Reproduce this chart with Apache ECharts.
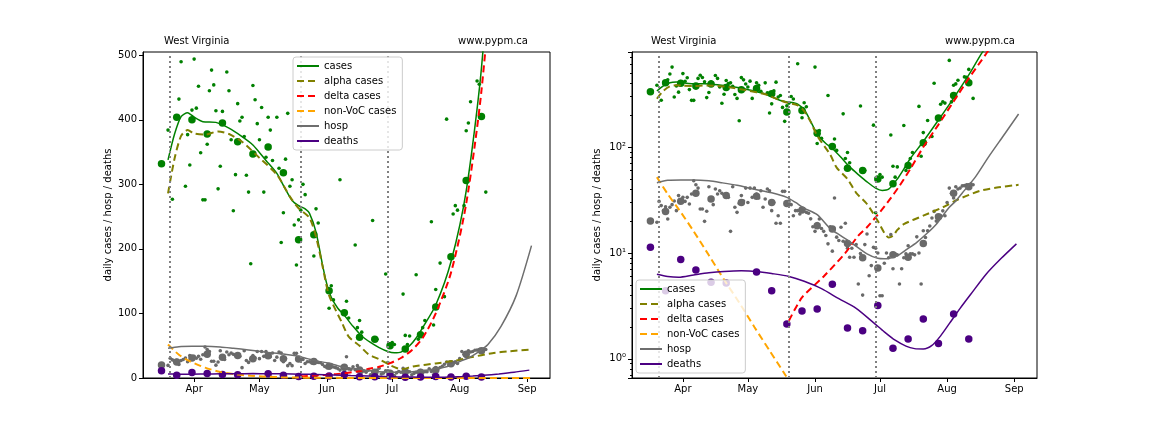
<!DOCTYPE html>
<html><head><meta charset="utf-8">
<script src="https://cdn.jsdelivr.net/npm/echarts@6/dist/echarts.min.js"></script>
<style>html,body{margin:0;padding:0;background:#fff}#c{width:1152px;height:432px}</style>
</head><body><div id="c"></div><script>
// ---------- data ----------
const startDate = '2021-03-17';            // day 0
const dailyStartOffset = 3;                // daily points start Mar 20
const weeklyDates = ['2021-03-17','2021-03-24','2021-03-31','2021-04-07','2021-04-14','2021-04-21','2021-04-28','2021-05-05','2021-05-12','2021-05-19','2021-05-26','2021-06-02','2021-06-09','2021-06-16','2021-06-23','2021-06-30','2021-07-07','2021-07-14','2021-07-21','2021-07-28','2021-08-04','2021-08-11'];
const casesWeekly = [332,404,400,378,395,366,347,358,318,214,222,135,101,63,60,50,45,67,110,188,306,405];
const hospWeekly = [20,24.7,30.8,36.6,32.3,34.8,30,34.3,30,29.4,25.5,18.1,16.8,12.3,9.0,7.2,9.6,9.1,12.3,22,36.6,42.2];
const deathsWeekly = [11.3,4.4,8.7,6.9,5.3,5.2,null,6.6,4.4,2.14,2.84,2.96,5.07,1.96,1.84,3.2,1.26,1.54,2.38,1.4,2.66,1.54];
const casesDaily = [384,null,277,null,null,432,490,569,297,377,330,415,494,418,452,349,276,276,362,445,477,454,414,293,328,413,null,474,445,369,259,315,425,398,404,374,314,288,177,453,431,394,369,419,288,342,404,384,337,null,404,325,210,256,339,410,297,307,237,175,245,260,300,284,null,611,null,189,262,240,null,null,null,569,108,143,121,null,null,307,null,null,119,93,null,null,206,78,89,71,null,null,null,null,244,59,60,null,null,null,161,24,50,55,52,null,null,null,130,66,52,65,null,null,160,60,69,78,89,null,null,242,82,137,null,178,null,126,401,null,null,254,267,260,null,658,267,383,395,428,null,null,460,455,541,null,288];
const hospDaily = [19.5,30.7,28,25.1,27.3,20.9,27,28.6,31,25.1,34.8,31,33.5,30.7,33.5,29,36,48.1,44.1,41,26,26,19.9,24.8,42.2,33,28.6,40.2,36,38.7,36.6,35.5,36,33.5,16,42.2,27,24.2,29.4,34.8,31,41,30,41,33.5,41,36,33,38.7,27,32.3,40.2,38.7,25.1,30,19.1,22.5,19.1,38.2,38.2,30,31,28.6,22.5,25.1,25.1,23.3,26,26,24.2,23.7,21,17.7,16,19,20.9,17,16,14.6,12.2,17.7,10.4,33,14.1,13.1,17.5,12.9,19.1,11.1,9.1,11.1,9.1,12,5.1,9.9,4.0,12,15.1,6.1,7.6,11.3,11.1,10,3.95,3.95,8,10,9,14.9,7.1,9.8,9.6,5.1,7.1,9,9.8,11.7,9.8,9.8,9.6,14.2,10,5.1,16.2,14,16.2,18,21.4,24.7,20,20.9,22.5,25,22.5,30,41,36.6,33,42.2,40.2,41,43,43.2,44.1,42,45,44.1];

// model curves (day offset from startDate, value)
const casesModelDays = [3,6,9,12,15,19,25,31,37,42,48,53,57,60,63,66,68,71,74,76,78,81,84,88,92,96,100,104,107,110,114,117,120,126,133,140,147,153,160,170];
const casesModelVals = [338,378,405,411,404,397,396,387,374,361,337,317,292,275,267,262,255,226,175,145,125,108,97,80,65,55,47,41,39,40,50,62,78,113,180,290,480,770,1250,2500];
const alphaModelDays = [3,6,9,12,15,20,26,31,37,45,53,59,63,68,71,74,77,83,86,91,95,100,105,108,110,112,114,117,126,135,142,152,160,170];
const alphaModelVals = [286,340,375,384,379,377,382,378,366,341,315,281,263,248,219,173,128,85,64,50,37,29,20,15.5,14,14.5,16.5,18.7,22.5,27,32,38.5,41.5,44];
const deltaModelDays = [64,70,80,90,96,100,105,110,115,120,126,133,140,147,155,162,170];
const deltaModelVals = [2.3,3.8,6.0,10,14.6,17.5,23,31,43,62,100,163,270,445,760,1250,2200];
const nonvocModelDays = [3,8,13,20,27,34,41,48,55,62,70,80,100,130,170];
const nonvocModelVals = [52,36,26,16,9.5,5.6,3.4,2.0,1.2,0.72,0.4,0.2,0.05,0.006,0.0004];
const hospModelDays = [3,8,14,20,27,33,40,48,56,63,67,71,77,83,88,93,100,105,108,114,118,123,128,132,138,141,145,150,156,163,170];
const hospModelVals = [46,48.5,49,49,48,46,43.5,40,37,33.5,30,26.5,23,17,14.5,12.4,9.8,8.9,8.8,9.4,10.7,12.6,15.5,18.7,27,31,39,52,80,128,205];
const deathsModelDays = [3,8,13,20,27,34,42,49,56,64,71,79,87,95,103,108,113,118,122,126,130,134,138,143,148,155,162,169];
const deathsModelVals = [6.3,6.0,5.9,6.2,6.5,6.7,6.8,6.7,6.4,6.0,5.4,4.6,3.7,3.0,2.2,1.8,1.5,1.32,1.25,1.24,1.34,1.65,2.15,3.0,4.1,6.3,8.9,12.2];

const vlineDates = ['2021-03-21','2021-05-20','2021-06-29'];
const legendNames = ['cases','alpha cases','delta cases','non-VoC cases','hosp','deaths'];
const monthLabels = ['Jan','Feb','Mar','Apr','May','Jun','Jul','Aug','Sep','Oct','Nov','Dec'];

// ---------- build ----------
const DAY = 86400000;
const T0 = Date.parse(startDate + 'T00:00:00Z');
const ts = s => Date.parse(s + 'T00:00:00Z');
const pairsFromDays = (days, vals) => days.map((d, i) => [T0 + d * DAY, vals[i]]);
const pairsDaily = vals => vals.map((v, i) => [T0 + (dailyStartOffset + i) * DAY, v]).filter(p => p[1] != null);
const pairsWeekly = vals => weeklyDates.map((s, i) => [ts(s), vals[i]]).filter(p => p[1] != null);

const xMin = T0 - 8.5 * DAY, xMax = T0 + 178.5 * DAY;
const FONT = 'DejaVu Sans';
const C = {cases:'#008000', alpha:'#808000', delta:'#ff0000', nonvoc:'#ffa500', hosp:'#6e6e6e', deaths:'#4b0082', dots:'#696969'};

const grids = [
  {left:143, top:52, width:407, height:326, show:true, borderColor:'#000', borderWidth:1},
  {left:632, top:52, width:405, height:326, show:true, borderColor:'#000', borderWidth:1}
];
const xAxes = [0,1].map(g => ({
  type:'time', gridIndex:g, min:xMin, max:xMax, splitNumber:5,
  axisLine:{lineStyle:{color:'#000', width:1}},
  axisTick:{show:true, length:4, lineStyle:{color:'#000'}},
  splitLine:{show:false},
  axisLabel:{color:'#000', fontFamily:FONT, fontSize:10, margin:6,
    formatter: v => monthLabels[new Date(v).getUTCMonth()]}
}));
const supMap = {0:'10\u2070', 1:'10\u00b9', 2:'10\u00b2', 3:'10\u00b3'};
const yAxes = [
  {type:'value', gridIndex:0, min:0, max:505, interval:100,
   name:'daily cases / hosp / deaths', nameLocation:'middle', nameGap:30,
   nameTextStyle:{color:'#000', fontFamily:FONT, fontSize:10},
   axisLine:{show:true, lineStyle:{color:'#000'}},
   axisTick:{show:true, length:4, lineStyle:{color:'#000'}},
   splitLine:{show:false},
   axisLabel:{color:'#000', fontFamily:FONT, fontSize:10, margin:6, showMaxLabel:false}},
  {type:'log', logBase:10, gridIndex:1, min:0.66, max:790,
   name:'daily cases / hosp / deaths', nameLocation:'middle', nameGap:30,
   nameTextStyle:{color:'#000', fontFamily:FONT, fontSize:10},
   axisLine:{show:true, lineStyle:{color:'#000'}},
   axisTick:{show:true, length:4, lineStyle:{color:'#000'}},
   minorTick:{show:true, splitNumber:9, length:2, lineStyle:{color:'#000'}},
   splitLine:{show:false},
   axisLabel:{color:'#000', fontFamily:FONT, fontSize:10, margin:6, showMinLabel:false, showMaxLabel:false,
     formatter: v => { const l = Math.log10(v); const r = Math.round(l); return Math.abs(l - r) < 1e-6 ? (supMap[r] || '') : ''; }}}
];

const series = [];
[0,1].forEach(g => {
  const base = {xAxisIndex:g, yAxisIndex:g, silent:true, animation:false};
  const sc = (name, data, color, size) => Object.assign({}, base, {type:'scatter', name:name, data:data, symbolSize:size, itemStyle:{color:color, opacity:1}, z:2});
  series.push(sc('cd', pairsDaily(casesDaily), C.cases, 3.6));
  series.push(sc('hd', pairsDaily(hospDaily), C.dots, 3.6));
  series.push(sc('cw', pairsWeekly(casesWeekly), C.cases, 7.5));
  series.push(sc('hw', pairsWeekly(hospWeekly), C.dots, 7.5));
  series.push(sc('dw', pairsWeekly(deathsWeekly), C.deaths, 7.5));
  const ln = (name, data, color, width, type) => Object.assign({}, base, {type:'line', name:name, data:data, symbol:'none', showSymbol:false, smooth:0.25, clip:true,
     lineStyle:{color:color, width:width, type:type}, itemStyle:{color:color}, z:3});
  series.push(ln('cases', pairsFromDays(casesModelDays, casesModelVals), C.cases, 1.5, 'solid'));
  series.push(ln('alpha cases', pairsFromDays(alphaModelDays, alphaModelVals), C.alpha, 2, [7,4]));
  series.push(ln('delta cases', pairsFromDays(deltaModelDays, deltaModelVals), C.delta, 2, [7,4]));
  series.push(ln('non-VoC cases', pairsFromDays(nonvocModelDays, nonvocModelVals), C.nonvoc, 2, [7,4]));
  series.push(ln('hosp', pairsFromDays(hospModelDays, hospModelVals), C.hosp, 1.5, 'solid'));
  series.push(ln('deaths', pairsFromDays(deathsModelDays, deathsModelVals), C.deaths, 1.5, 'solid'));
  series.push(Object.assign({}, base, {type:'line', name:'vlines', data:[], symbol:'none',
    markLine:{silent:true, symbol:['none','none'], label:{show:false},
      lineStyle:{color:'#808080', width:2, type:[2,3]},
      data: vlineDates.map(s => ({xAxis: ts(s)}))}, z:1}));
});

const legendCommon = {
  orient:'vertical', data:legendNames, itemWidth:22, itemHeight:10, itemGap:5,
  backgroundColor:'rgba(255,255,255,0.8)', borderColor:'#cccccc', borderWidth:1, borderRadius:3,
  padding:[4,6,4,3], selectedMode:false,
  textStyle:{color:'#000', fontFamily:FONT, fontSize:10, lineHeight:10},
  itemStyle:{opacity:0}, z:10
};
const legends = [
  Object.assign({}, legendCommon, {left:293, top:57}),
  Object.assign({}, legendCommon, {left:636, top:280})
];

const txt = (text, x, align) => ({type:'text', left: align === 'left' ? x : undefined, right: align === 'right' ? x : undefined, top:36,
  style:{text:text, fill:'#000', font:'10px "DejaVu Sans"'}});
const graphics = [
  txt('West Virginia', 164, 'left'), txt('www.pypm.ca', 1152 - 528, 'right'),
  txt('West Virginia', 651, 'left'), txt('www.pypm.ca', 1152 - 1015, 'right')
];

const chart = echarts.init(document.getElementById('c'), null, {renderer:'canvas'});
chart.setOption({
  useUTC:true, animation:false, backgroundColor:'#fff',
  grid:grids, xAxis:xAxes, yAxis:yAxes, series:series, legend:legends, graphic:graphics
});
</script></body></html>
